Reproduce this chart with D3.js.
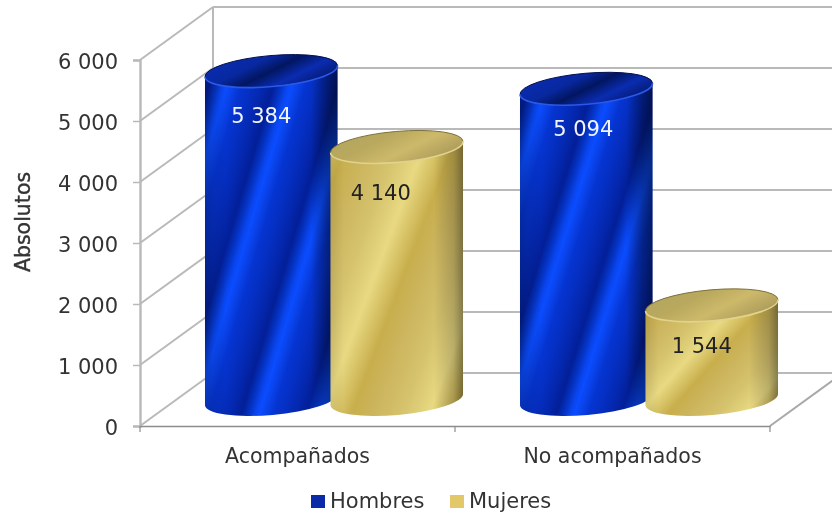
<!DOCTYPE html>
<html><head><meta charset="utf-8">
<script src="https://cdn.jsdelivr.net/npm/d3@7/dist/d3.min.js"></script>
<style>
html,body{margin:0;padding:0;background:#fff;overflow:hidden}
svg{display:block;filter:blur(0.6px)}
text{font-family:"DejaVu Sans",sans-serif;fill:#333}
</style></head><body>
<script>
const categories = ["Acompañados", "No acompañados"];
const seriesNames = ["Hombres", "Mujeres"];
const hombres = [5384, 5094];
const mujeres = [4140, 1544];
const yTicks = [0, 1000, 2000, 3000, 4000, 5000, 6000];
const yTitle = "Absolutos";

const W = 832, H = 513;
const plot = {l:140, r:770, t:60, b:426};
const depth = {x:73, y:-53};
const svg = d3.select("body").append("svg").attr("width",W).attr("height",H);
const defs = svg.append("defs");

const y = d3.scaleLinear().domain([0,6000]).range([plot.b,plot.t]);
const x0 = d3.scaleBand().domain(categories).range([plot.l,plot.r]);
const x1 = d3.scaleBand().domain(seriesNames).range([0,x0.bandwidth()]).paddingInner(0).paddingOuter(0.255);
const fmt = d3.formatLocale({decimal:",",thousands:" ",grouping:[3],currency:["",""]}).format(",d");

const styles = {
  Hombres:{stops:[[0,"#0530c4"],[.18,"#0428b0"],[.36,"#031f98"],[.46,"#0430bc"],[.58,"#0a46f0"],[.64,"#0a4cff"],[.72,"#0a44ec"],[.86,"#0534d0"],[1,"#0530c4"]],
           period:[.304,.237], phase:.386, rim:"#2a58e8", upper:"#02104e", label:"#f2f5ff", swatch:"#0a2aa8",
           topStops:[[0,"#0a2cb0"],[.3,"#0828a0"],[.5,"#021660"],[.72,"#0a2cb0"],[1,"#04186c"]],
           edge:[[0,.22],[.06,.1],[.16,0],[.8,0],[.92,.32],[1,.48]]},
  Mujeres:{stops:[[0,"#cbb45c"],[.3,"#d6c36e"],[.55,"#e8d982"],[.82,"#c8ae4c"],[1,"#cbb45c"]],
           period:[.5,.39], phase:.275, rim:"#e2d38c", upper:"#7d6f3a", label:"#222", swatch:"#e2c868",
           topStops:[[0,"#b3a660"],[.3,"#b9a95e"],[.6,"#cdb96a"],[1,"#a8985a"]],
           edge:[[0,.08],[.1,0],[.78,0],[.93,.2],[1,.42]]}
};

seriesNames.forEach(n=>{
  const st = styles[n];
  const g = defs.append("linearGradient").attr("id","tex"+n)
    .attr("x1",st.phase).attr("y1",0).attr("x2",st.phase+st.period[0]).attr("y2",st.period[1])
    .attr("spreadMethod","repeat");
  st.stops.forEach(s=>g.append("stop").attr("offset",s[0]).attr("stop-color",s[1]));
  const e = defs.append("linearGradient").attr("id","edge"+n);
  st.edge.forEach(s=>e.append("stop").attr("offset",s[0]).attr("stop-color","#000").attr("stop-opacity",s[1]));
  const t = defs.append("linearGradient").attr("id","top"+n).attr("x1",0).attr("y1",.2).attr("x2",1).attr("y2",.8);
  st.topStops.forEach(s=>t.append("stop").attr("offset",s[0]).attr("stop-color",s[1]));
});

// walls
const wall = svg.append("g").attr("fill","none").attr("stroke","#b9b9b9").attr("stroke-width",2);
yTicks.forEach(t=>{
  const yy = y(t);
  wall.append("line").attr("x1",plot.l+depth.x).attr("x2",plot.r+depth.x).attr("y1",yy+depth.y).attr("y2",yy+depth.y);
  wall.append("line").attr("x1",plot.l).attr("x2",plot.l+depth.x).attr("y1",yy).attr("y2",yy+depth.y);
});
wall.append("line").attr("x1",plot.l+depth.x).attr("x2",plot.l+depth.x).attr("y1",y(6000)+depth.y).attr("y2",y(0)+depth.y);
wall.append("line").attr("x1",plot.r).attr("x2",plot.r+depth.x).attr("y1",y(0)).attr("y2",y(0)+depth.y).attr("stroke","#a8a8a8");

// axes
const yAxis = svg.append("g").attr("transform",`translate(${plot.l},0)`)
  .call(d3.axisLeft(y).tickValues(yTicks).tickFormat(fmt).tickSize(7).tickPadding(15));
yAxis.select(".domain").attr("stroke","#b9b9b9").attr("stroke-width",2.4);
yAxis.selectAll(".tick line").attr("stroke","#b9b9b9").attr("stroke-width",1.5);
yAxis.selectAll("text").attr("font-size",21).attr("fill","#333").attr("dy","0.4em");

const xAxis = svg.append("g").attr("transform",`translate(0,${plot.b})`)
  .call(d3.axisBottom(x0).tickSize(0).tickPadding(22));
xAxis.select(".domain").attr("stroke","#8c8c8c").attr("stroke-width",1.5);
xAxis.selectAll("text").attr("font-size",20.5).attr("fill","#333");
const bounds = [...categories.map(c=>x0(c)), x0.range()[1]];
xAxis.selectAll(".bound").data(bounds).join("line").attr("class","bound")
  .attr("x1",d=>d).attr("x2",d=>d).attr("y1",0).attr("y2",6).attr("stroke","#8c8c8c").attr("stroke-width",1.2);

svg.append("text").attr("transform",`translate(30,222) rotate(-90)`).attr("text-anchor","middle")
  .attr("font-size",20.5).style("paint-order","stroke").attr("stroke","#333").attr("stroke-width",.4).text(yTitle);

// cylinders
const rx = x1.bandwidth()*0.53, ry = 15.5, tilt = 5;
const rad = tilt*Math.PI/180;
const ex = rx*Math.cos(rad), ey = rx*Math.sin(rad);
const rows = [];
seriesNames.forEach((n,si)=>{
  const vals = si===0?hombres:mujeres;
  categories.forEach((c,ci)=>rows.push({n,c,v:vals[ci],ci}));
});
rows.sort((a,b)=>a.ci-b.ci || seriesNames.indexOf(a.n)-seriesNames.indexOf(b.n));
const cxOf = d=>x0(d.c)+x1(d.n)+x1.bandwidth()/2+depth.x/2;
const base = y(0)+depth.y/2;
const topOf = d=>y(d.v)+depth.y/2;

const bars = svg.append("g").selectAll("g").data(rows).join("g");
const sidePath = d=>{
  const cx=cxOf(d), t=topOf(d);
  return `M${cx-ex},${t+ey} A${rx},${ry} ${-tilt} 0 0 ${cx+ex},${t-ey} L${cx+ex},${base-ey} A${rx},${ry} ${-tilt} 0 1 ${cx-ex},${base+ey} Z`;
};
bars.append("path").attr("d",sidePath).attr("fill",d=>`url(#tex${d.n})`);
bars.append("path").attr("d",sidePath).attr("fill",d=>`url(#edge${d.n})`);
bars.append("ellipse").attr("cx",cxOf).attr("cy",topOf).attr("rx",rx).attr("ry",ry)
  .attr("transform",d=>`rotate(${-tilt} ${cxOf(d)} ${topOf(d)})`)
  .attr("fill",d=>`url(#top${d.n})`);
const arc = (d,sweep)=>{
  const cx=cxOf(d), t=topOf(d);
  return `M${cx-ex},${t+ey} A${rx},${ry} ${-tilt} 0 ${sweep} ${cx+ex},${t-ey}`;
};
bars.append("path").attr("d",d=>arc(d,1)).attr("fill","none").attr("stroke",d=>styles[d.n].upper).attr("stroke-width",1);
bars.append("path").attr("d",d=>arc(d,0)).attr("fill","none").attr("stroke",d=>styles[d.n].rim).attr("stroke-width",1.6);

// value labels
const labelNudge = {"Hombres|Acompañados":[-10,45],"Mujeres|Acompañados":[-16,46],"Hombres|No acompañados":[-3,40],"Mujeres|No acompañados":[-10,41]};
bars.append("text").attr("text-anchor","middle").attr("dominant-baseline","central")
  .attr("x",d=>cxOf(d)+labelNudge[d.n+"|"+d.c][0]).attr("y",d=>topOf(d)+labelNudge[d.n+"|"+d.c][1])
  .attr("font-size",21)
  .style("fill",d=>styles[d.n].label).text(d=>fmt(d.v));

// legend
const legendX = d3.scaleOrdinal().domain(seriesNames).range([311,450]);
const lg = svg.append("g").selectAll("g").data(seriesNames).join("g").attr("transform",d=>`translate(${legendX(d)},494)`);
lg.append("rect").attr("y",1).attr("width",14).attr("height",13).attr("fill",d=>styles[d].swatch);
lg.append("text").attr("x",19).attr("y",14).attr("font-size",21).text(d=>d);
</script>
</body></html>
